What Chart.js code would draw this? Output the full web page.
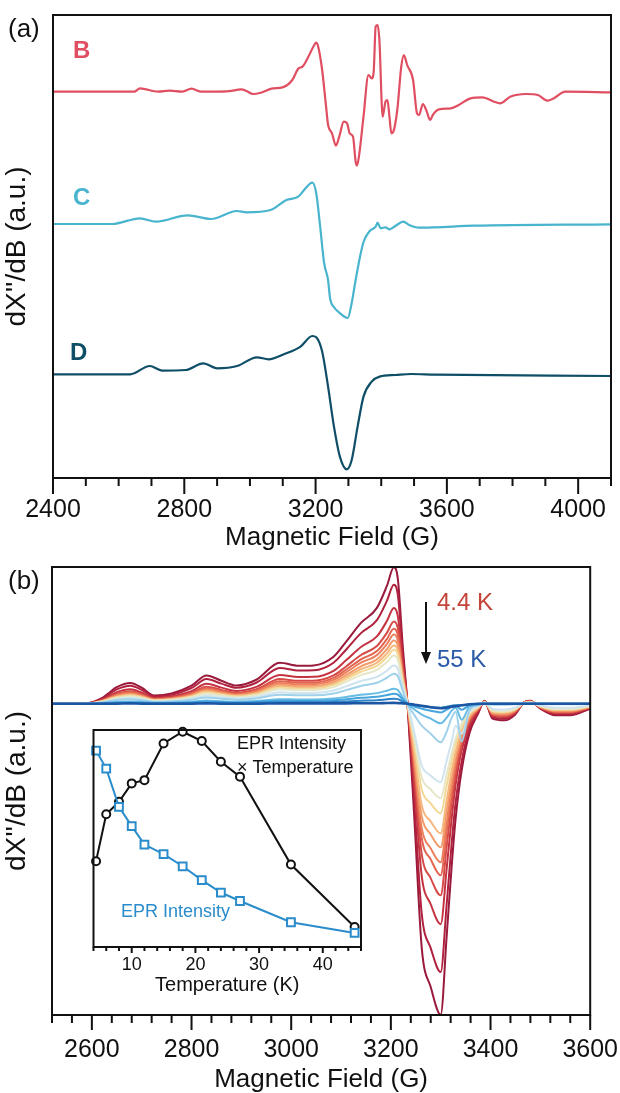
<!DOCTYPE html>
<html><head><meta charset="utf-8">
<script src="https://cdn.jsdelivr.net/npm/chart.js@4.4.1/dist/chart.umd.min.js"></script>
<style>
html,body{margin:0;padding:0;background:#fff;}
#wrap{position:relative;width:620px;height:1093px;overflow:hidden;background:#fff;}
canvas{position:absolute;}
</style></head><body>
<div id="wrap">
<canvas id="ca" width="620" height="560" style="left:0;top:0;width:620px;height:560px"></canvas>
<canvas id="cb" width="620" height="533" style="left:0;top:560px;width:620px;height:533px"></canvas>
<canvas id="ci" width="330" height="280" style="left:40px;top:720px;width:330px;height:280px"></canvas>
</div>
<script>
// ---------- Panel (a) data ----------
const fieldA_B = [2400,2647,2665,2720,2756,2792,2822,2852,2888,2937,2973,2991,3009,3033,3069,3099,3129,3148,3160,3178,3196,3202,3208,3220,3232,3238,3250,3262,3272,3286,3296,3304,3314,3322,3326,3332,3346,3361,3371,3377,3383,3389,3395,3401,3404,3413,3419,3425,3431,3437,3449,3461,3469,3479,3497,3509,3515,3527,3537,3549,3557,3576,3612,3636,3672,3708,3744,3762,3793,3841,3877,3907,3925,3961,4100];
const sigA_B = [0,0,3.3,0,1,0,3,0,0,0.5,2.3,0.5,-2.3,-1,3.3,4.3,11.7,23.3,25,35,46.7,49,45,21.7,-15,-33,-41.7,-54,-45,-30,-31.7,-41.7,-45,-70,-74,-65,-25,16.7,13.3,20,65,66.7,48,-8.3,-25,-10,-8.3,-25,-41.7,-40,-18,25,36.7,26.7,11.7,-21.7,-23.3,-12.3,-18.3,-28.3,-23.3,-17.7,-16.7,-13.3,-6.7,-5.7,-10,-11.7,-5,-2.3,-3.3,-9,-6.7,0,-0.7];
const fieldA_C = [2400,2580,2665,2713,2810,2882,2960,2990,3063,3111,3147,3165,3184,3190,3202,3214,3226,3238,3244,3258,3270,3298,3310,3322,3334,3346,3365,3383,3389,3398,3413,3425,3443,3467,3485,3515,3564,3684,4100];
const sigA_C = [0,0,5.7,2.3,8.7,5,13,11.7,14,24,27.3,34,40.7,41.3,30.7,-2.7,-39,-56,-74,-84,-88,-94,-79,-56,-35,-18,-7,-2.7,1.3,-4.3,-3.3,-5.3,-2,2.3,-1,-3.7,-3.3,-1.7,-0.3];
const fieldA_D = [2400,2635,2695,2732,2804,2858,2900,2961,3021,3057,3105,3154,3190,3202,3220,3238,3256,3274,3295,3310,3328,3346,3371,3395,3443,3491,3564,4100];
const sigA_D = [0,0,8.3,3.7,4.3,11,6,8.3,17,15,20.3,27.7,38.3,37,22.7,-12.3,-52.3,-82.3,-95,-85.7,-52.3,-22.3,-7.3,-2.3,-0.7,0.3,-0.3,-1.7];
const offsetA = [386.3, 254, 103.7]; // baselines of B, C, D (a.u.)
const ticksA = [2400, 2800, 3200, 3600, 4000];

// ---------- Panel (b) data ----------
const fieldB = [2520,2590,2620,2650,2677,2700,2725,2760,2800,2830,2860,2890,2930,2977,3015,3045,3085,3110,3140,3172,3192,3206,3214,3224,3234,3248,3262,3280,3300,3312,3322,3330,3342,3358,3375,3388,3404,3428,3448,3468,3480,3500,3530,3560,3600];
const spec01 = [0,0.5,5.5,16.5,20.7,16,8.3,10.3,18,28.3,23,18.3,24,41,38,38.3,47,62,81,96,118,136.7,125,56.7, -5,-123,-245,-284,-311.7,-233,-163,-115,-67,-29,-10, 3,-15,-16.7,-11.7,1.7,3,-5,-11.7,-11.7,-5];
const spec02 = [0,0.4,4.8,14.4,18.1,14,7.2,9,15.7,24.7,20.1,16,21,35.8,33.2,33.4,41,54.1,70.7,83.8,103,119.3,109,49.5, -4,-106,-211,-245,-269,-201,-140,-99,-58,-25,-9, 2.7,-13.5,-15,-10.5,1.5,2.7,-4.5,-10.5,-10.5,-4.5];
const spec03 = [0,0.4,3.9,11.6,14.5,11.2,5.8,7.2,12.6,19.9,16.1,12.8,16.8,28.8,26.7,26.9,33,43.5,56.9,67.4,82.8,96,87.8,39.8, -3.5,-87,-173,-201,-221,-165,-115,-81,-47,-21,-7, 2.4,-12,-13.4,-9.4,1.4,2.4,-4,-9.4,-9.4,-4];
const spec04 = [0,0.3,3.3,9.9,12.5,9.6,5,6.2,10.8,17,13.8,11,14.4,24.7,22.9,23,28.3,37.3,48.8,57.8,71,82.3,75.3,34.1, -3,-76,-151,-175,-192,-143,-100,-71,-41,-18,-6, 2.3,-11.3,-12.5,-8.8,1.3,2.3,-3.8,-8.8,-8.8,-3.8];
const spec05 = [0,0.3,3,9.1,11.4,8.8,4.6,5.7,9.9,15.5,12.6,10,13.2,22.5,20.9,21,25.8,34,44.5,52.7,64.8,75,68.6,31.1, -3,-68,-135,-156,-172,-128,-90,-63,-37,-16,-5.5, 2.1,-10.5,-11.7,-8.2,1.2,2.1,-3.5,-8.2,-8.2,-3.5];
const spec06 = [0,0.3,2.8,8.4,10.5,8.1,4.2,5.2,9.1,14.3,11.7,9.3,12.2,20.8,19.3,19.4,23.8,31.4,41.1,48.7,59.8,69.3,63.4,28.7, -2.5,-63,-125,-145,-159,-119,-83,-59,-34,-15,-5, 2,-9.8,-10.9,-7.6,1.1,2,-3.3,-7.6,-7.6,-3.3];
const spec07 = [0,0.2,2.5,7.6,9.6,7.4,3.8,4.8,8.3,13.1,10.6,8.5,11.1,19,17.6,17.7,21.8,28.7,37.5,44.4,54.6,63.3,57.9,26.3, -2.3,-57,-113,-131,-144,-107,-75,-53,-31,-13,-4.6, 1.8,-9,-10,-7,1,1.8,-3,-7,-7,-3];
const spec08 = [0,0.2,2.3,7,8.8,6.8,3.5,4.4,7.7,12.1,9.8,7.8,10.2,17.5,16.2,16.4,20.1,26.5,34.6,41,50.4,58.3,53.4,24.2, -2,-51,-102,-118,-130,-97,-68,-48,-28,-12,-4.2, 1.7,-8.3,-9.2,-6.4,0.9,1.7,-2.8,-6.4,-6.4,-2.8];
const spec09 = [0,0.2,2.2,6.5,8.2,6.3,3.3,4.1,7.1,11.2,9.1,7.2,9.5,16.2,15,15.1,18.6,24.5,32,37.9,46.6,54,49.4,22.4, -1.8,-43,-86,-100,-110,-82,-57,-40,-24,-10,-3.5, 1.5,-7.5,-8.4,-5.9,0.9,1.5,-2.5,-5.9,-5.9,-2.5];
const spec10 = [0,0.2,1.9,5.8,7.3,5.6,2.9,3.6,6.4,10,8.1,6.5,8.5,14.5,13.4,13.5,16.6,21.9,28.6,33.9,41.7,48.3,44.1,20, -1.5,-37,-74,-86,-94.7,-71,-50,-35,-20,-9,-3, 1.4,-6.8,-7.5,-5.3,0.8,1.4,-2.3,-5.3,-5.3,-2.3];
const spec11 = [0,0,1.5,4.6,5.8,4.5,2.3,2.9,5,7.9,6.4,5.1,6.7,11.5,10.6,10.7,13.2,17.4,22.7,26.9,33,38.3,35,15.9, -1.3,-31,-62,-72,-78.7,-57,-38,-22,-30,-8,-2.5, 1,-5.3,-5.8,-4.1,0.6,1,-1.8,-4.1,-4.1,-1.8];
const spec12 = [0,0,1.2,3.6,4.5,3.5,1.8,2.3,4,6.2,5,4,5.3,9,8.4,8.4,10.3,13.6,17.8,21,26,30,27.5,12.5, -1,-12,-22,-30,-38.7,-28,-14,-8,-38,-6,-1.5, 0.5,-1,-1,-0.5,0,0.3,0,-0.5,-0.5,0];
const spec13 = [0,0,0.6,1.8,2.3,1.8,0.9,1.1,2,3.1,2.5,2,2.6,4.5,4.2,4.2,5.2,6.8,8.9,10.6,13,15,13.7,6.2, -0.5,-6,-11,-15,-19.7,-14,-7,-4,-16,-3,-1, 0,0,0,0,0,0,0,0,0,0];
const spec14 = [0,0,0.4,1.2,1.5,1.2,0.6,0.8,1.3,2.1,1.7,1.3,1.8,3,2.8,2.8,3.4,4.5,5.9,7,8.6,10,9.1,4.1, 0,-3,-5,-7,-8.7,-6,-3,-2,-6,-1.5,-0.5, 0,0,0,0,0,0,0,0,0,0];
const spec15 = [0,0,0.2,0.6,0.8,0.6,0.3,0.4,0.7,1,0.9,0.7,0.9,1.5,1.4,1.4,1.7,2.3,3,3.5,4.4,5,4.6,2.1, 0,-1.5,-2.5,-3.5,-4,-3,-2,-1.5,-1.5,-0.5,0, 0,0,0,0,0,0,0,0,0,0];
const spec16 = [0,0,0,0,0.3,0,0,0,0,0.3,0,0,0,0.3,0.3,0.3,0.3,0.3,0.5,0.5,0.7,0.8,0.6,0.3, 0,-1,-2,-3.5,-4.5,-4,-3,-2.5,-1.5,-0.5,0, 0,0,0,0,0,0,0,0,0,0];
const ticksB = [2600, 2800, 3000, 3200, 3400, 3600];

// ---------- Inset data ----------
const insetTemp = [4.4, 6, 8, 10, 12, 15, 18, 21, 24, 27, 35, 45];
const insetIntensityT = [39.5, 61.2, 66.9, 75.4, 76.9, 93.8, 99.2, 94.9, 85.4, 78.5, 38, 9.2];
const insetIntensity = [90.5, 82.2, 64.6, 55.7, 47.2, 42.8, 37.2, 30.8, 25.1, 21.2, 11.4, 6.5];
const ticksInset = [10, 20, 30, 40];

// ---------- styling ----------
const FF = "'Liberation Sans', Arial, Helvetica, sans-serif";
const INK = '#111';
const colA = ['#e04e62', '#48b4ce', '#0f4e67'];
const colB = ['#9a1a3c','#b0213d','#c53341','#d64b47','#e4644f','#ec7f5c','#f39b6b','#f6b77e','#f3d896','#e6e6c8','#cfe4ee','#9fd1ea','#67bce6','#45a5dc','#2b82c6','#1c56a3'];
const specs = [spec01,spec02,spec03,spec04,spec05,spec06,spec07,spec08,spec09,spec10,spec11,spec12,spec13,spec14,spec15,spec16];

const framePlugin = {
  id: 'frame',
  afterDatasetsDraw(chart, args, o) {
    const {ctx, chartArea: a} = chart;
    const sx = chart.scales.x;
    ctx.save();
    ctx.strokeStyle = INK; ctx.lineWidth = o.lw;
    ctx.strokeRect(a.left, a.top, a.right - a.left, a.bottom - a.top);
    ctx.beginPath();
    const n = Math.round((sx.max - o.start) / o.minor);
    for (let i = 0; i <= n; i++) {
      const v = o.start + i * o.minor;
      const px = sx.getPixelForValue(v);
      const maj = o.majors.some(m => Math.abs(m - v) < 1e-6);
      ctx.moveTo(px, a.bottom);
      ctx.lineTo(px, a.bottom + (maj ? o.majLen : o.minLen));
    }
    ctx.stroke();
    ctx.restore();
  }
};
const notesPlugin = {
  id: 'notes',
  afterDraw(chart, args, o) {
    const ctx = chart.ctx;
    ctx.save();
    ctx.textBaseline = 'middle';
    (o.items || []).forEach(it => {
      ctx.font = it.font; ctx.fillStyle = it.color; ctx.textAlign = it.align || 'left';
      ctx.fillText(it.text, it.x, it.y);
    });
    if (o.arrow) {
      const ar = o.arrow;
      ctx.strokeStyle = INK; ctx.fillStyle = INK; ctx.lineWidth = 2;
      ctx.beginPath(); ctx.moveTo(ar.x, ar.y1); ctx.lineTo(ar.x, ar.y2 - 8); ctx.stroke();
      ctx.beginPath(); ctx.moveTo(ar.x - 5, ar.y2 - 12); ctx.lineTo(ar.x + 5, ar.y2 - 12); ctx.lineTo(ar.x, ar.y2); ctx.closePath(); ctx.fill();
    }
    ctx.restore();
  }
};

function xScale(min, max, ticks, h, tl, text, tsize, titleSize, titlePadB, titleLH) {
  return {
    type: 'linear', min, max,
    grid: {display: false, drawTicks: true, tickLength: tl}, border: {display: false},
    afterBuildTicks: ax => { ax.ticks = ticks.map(v => ({value: v})); },
    afterFit: ax => { ax.height = h; },
    ticks: {font: {family: FF, size: tsize, lineHeight: 1.2}, color: INK, padding: 2, maxRotation: 0, autoSkip: false, callback: v => String(v)},
    title: {display: true, text: text, font: {family: FF, size: titleSize, lineHeight: titleLH}, color: INK, padding: {top: 0, bottom: titlePadB}}
  };
}
function yScale(min, max, w) {
  return {
    type: 'linear', min, max,
    grid: {display: false, drawTicks: false}, border: {display: false}, ticks: {display: false},
    afterFit: ax => { ax.width = w; },
    title: {display: true, text: "dX''/dB (a.u.)", font: {family: FF, size: 28, lineHeight: 1.1}, color: INK, padding: {top: 2, bottom: 0}}
  };
}
const common = {responsive: false, animation: false, devicePixelRatio: 1, events: []};

// ---------- Chart (a) ----------
const seriesA = [[fieldA_B, sigA_B], [fieldA_C, sigA_C], [fieldA_D, sigA_D]];
new Chart(document.getElementById('ca'), {
  type: 'line',
  data: {datasets: seriesA.map((s, k) => ({
    data: s[0].map((f, i) => ({x: f, y: s[1][i] + offsetA[k]})),
    borderColor: colA[k], borderWidth: 2.2, pointRadius: 0, cubicInterpolationMode: 'monotone', fill: false
  }))},
  options: Object.assign({}, common, {
    layout: {padding: {left: 0, top: 15, right: 9, bottom: 0}},
    plugins: {
      legend: {display: false}, tooltip: {enabled: false},
      frame: {lw: 2, start: 2400, minor: 100, majors: ticksA, majLen: 16, minLen: 8},
      notes: {items: [
        {text: '(a)', x: 8, y: 30, font: `26px ${FF}`, color: INK},
        {text: 'B', x: 73, y: 51, font: `bold 24px ${FF}`, color: colA[0]},
        {text: 'C', x: 73, y: 198, font: `bold 24px ${FF}`, color: colA[1]},
        {text: 'D', x: 70, y: 353, font: `bold 24px ${FF}`, color: colA[2]}
      ]}
    },
    scales: {x: xScale(2400, 4100, ticksA, 82, 15, 'Magnetic Field (G)', 25, 26, 7, 1.2), y: yScale(0, 463, 53)}
  }),
  plugins: [framePlugin, notesPlugin]
});

// ---------- Chart (b) ----------
const dsB = specs.map((s, k) => ({
  data: fieldB.map((f, i) => ({x: f, y: s[i]})),
  borderColor: colB[k], borderWidth: k === 15 ? 2.6 : 2, pointRadius: 0, cubicInterpolationMode: 'monotone', fill: false
})).reverse();
new Chart(document.getElementById('cb'), {
  type: 'line',
  data: {datasets: dsB},
  options: Object.assign({}, common, {
    layout: {padding: {left: 0, top: 7, right: 29, bottom: 0}},
    plugins: {
      legend: {display: false}, tooltip: {enabled: false},
      frame: {lw: 2, start: 2520, minor: 40, majors: ticksB, majLen: 15, minLen: 8},
      notes: {items: [
        {text: '(b)', x: 8, y: 22, font: `26px ${FF}`, color: INK},
        {text: '4.4 K', x: 437, y: 43, font: `24px ${FF}`, color: '#c4443a'},
        {text: '55 K', x: 437, y: 100, font: `24px ${FF}`, color: '#2a5aa8'}
      ], arrow: {x: 426, y1: 42, y2: 104}}
    },
    scales: {x: xScale(2520, 3600, ticksB, 78, 18, 'Magnetic Field (G)', 25, 26, 0, 1), y: yScale(-312, 137, 52)}
  }),
  plugins: [framePlugin, notesPlugin]
});

// ---------- Inset ----------
new Chart(document.getElementById('ci'), {
  type: 'line',
  data: {datasets: [
    {data: insetTemp.map((t, i) => ({x: t, y: insetIntensity[i]})), borderColor: '#2a8ccb', borderWidth: 2,
     pointStyle: 'rect', pointRadius: 5.5, pointBorderWidth: 2, pointBorderColor: '#2a8ccb', pointBackgroundColor: '#fff', tension: 0, clip: false},
    {data: insetTemp.map((t, i) => ({x: t, y: insetIntensityT[i]})), borderColor: INK, borderWidth: 2,
     pointStyle: 'circle', pointRadius: 4, pointBorderWidth: 2, pointBorderColor: INK, pointBackgroundColor: '#fff', tension: 0, clip: false}
  ]},
  options: Object.assign({}, common, {
    layout: {padding: {left: 53.5, top: 10, right: 9, bottom: 0}},
    plugins: {
      legend: {display: false}, tooltip: {enabled: false},
      frame: {lw: 2, start: 4, minor: 2, majors: ticksInset, majLen: 6, minLen: 4},
      notes: {items: [
        {text: 'EPR Intensity', x: 197, y: 24, font: `18px ${FF}`, color: INK},
        {text: '\u00d7 Temperature', x: 197, y: 48, font: `18px ${FF}`, color: INK},
        {text: 'EPR Intensity', x: 81, y: 192, font: `18px ${FF}`, color: '#2a8ccb'}
      ]}
    },
    scales: {
      x: xScale(4, 46, ticksInset, 53, 5, 'Temperature (K)', 18, 20, 3, 1.2),
      y: {type: 'linear', min: 0, max: 100, display: false}
    }
  }),
  plugins: [framePlugin, notesPlugin]
});
</script>
</body></html>
